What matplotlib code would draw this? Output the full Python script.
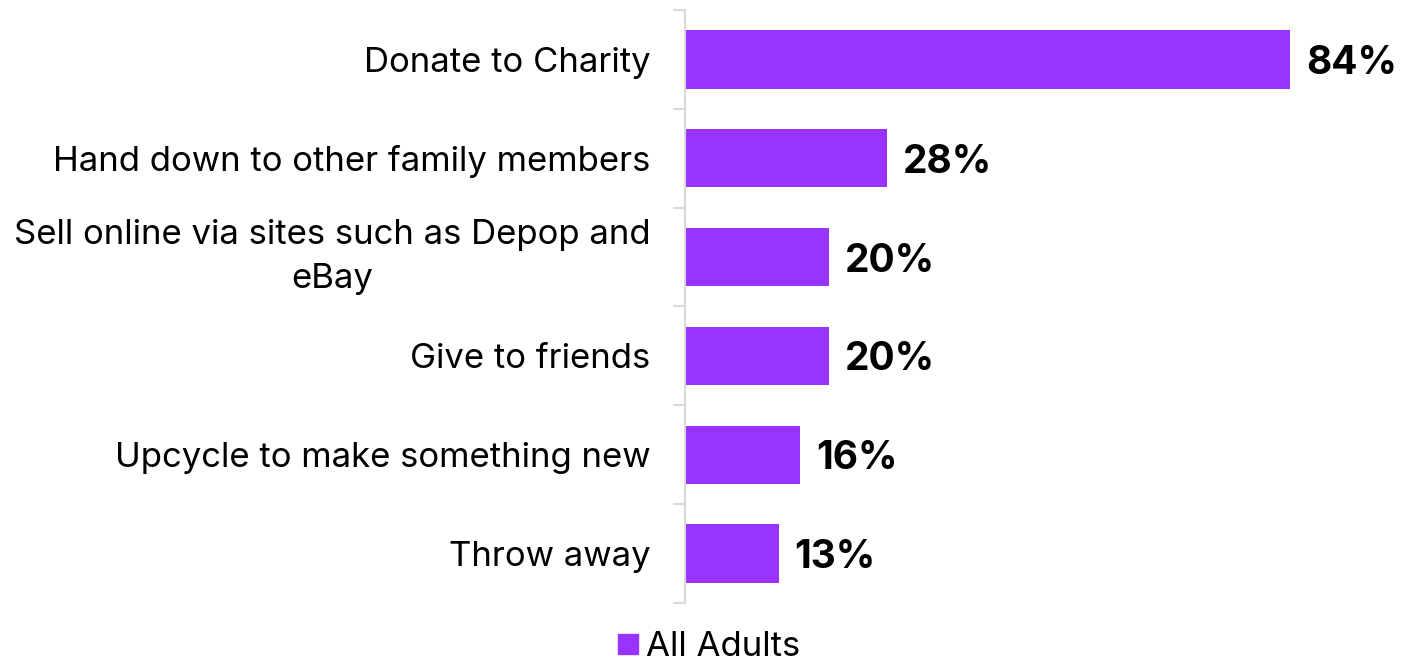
import matplotlib.pyplot as plt
from matplotlib.lines import Line2D

# Survey answers: what people do with clothes they no longer want
categories = [
    "Donate to Charity",
    "Hand down to other family members",
    "Sell online via sites such as Depop and\neBay",
    "Give to friends",
    "Upcycle to make something new",
    "Throw away",
]
all_adults = [84, 28, 20, 20, 16, 13]

purple = "#9933FF"
grey = "#D9D9D9"

plt.rcParams["font.family"] = ["Inter", "DejaVu Sans"]

fig = plt.figure(figsize=(14.09, 6.63), dpi=100)
ax = fig.add_axes([0.4862, 0.0905, 0.46, 0.8945])

pos = list(range(len(categories)))
bars = ax.barh(pos, all_adults, height=0.59, color=purple, label="All Adults")

ax.set_xlim(0, 90)
ax.set_ylim(len(categories) - 0.5, -0.5)

# value labels
for y, v in zip(pos, all_adults):
    ax.text(v + 2.2, y + 0.04, f"{v}%", va="center", ha="left",
            fontsize=28, fontweight="bold", color="black")

# boundary ticks on the spine, category names at the bar centres
ax.set_yticks([p - 0.5 for p in pos] + [len(categories) - 0.5])
ax.set_yticklabels([])
ax.tick_params(axis="y", which="major", length=9, width=1.5, color=grey, direction="out")
ax.set_yticks(pos, minor=True)
labels = ax.set_yticklabels(categories, minor=True, fontsize=25,
                            multialignment="center", linespacing=1.45)
for lab in labels:
    if "\n" in lab.get_text():
        lab.set_verticalalignment("center")
ax.tick_params(axis="y", which="minor", length=0, pad=25)

ax.set_xticks([])
for s in ["top", "right", "bottom"]:
    ax.spines[s].set_visible(False)
ax.spines["left"].set_color(grey)
ax.spines["left"].set_linewidth(1.5)

handle = Line2D([], [], marker="s", linestyle="none", markersize=15,
                markerfacecolor=purple, markeredgecolor=purple)
fig.legend([handle], ["All Adults"], loc="center", bbox_to_anchor=(0.502, 0.024),
           frameon=False, fontsize=25, handletextpad=0.1, handlelength=0.8)

fig.savefig("out.png", dpi=100, facecolor="white")
